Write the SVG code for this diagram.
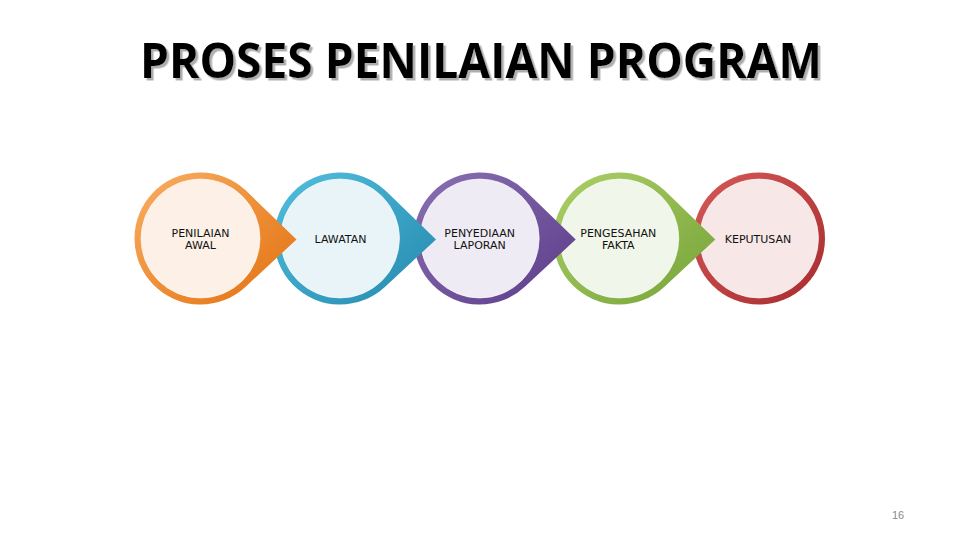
<svg xmlns="http://www.w3.org/2000/svg" xmlns:xlink="http://www.w3.org/1999/xlink" width="960" height="540" viewBox="0 0 960 540">
<style>
.title{font-family:"Open Sans","DejaVu Sans",sans-serif;font-weight:700;font-size:49px;}
.lbl{font-family:"DejaVu Sans","Liberation Sans",sans-serif;font-size:11px;fill:#111;text-anchor:middle;}
.inner{stroke:#ffffff;stroke-opacity:0.6;stroke-width:1;}
.pg{font-family:"Liberation Sans",sans-serif;font-size:11px;fill:#8a8a8a;text-anchor:middle;}
</style>
<defs>
<filter id="shadow" x="-5%" y="-20%" width="110%" height="140%">
<feDropShadow dx="2.5" dy="2.5" stdDeviation="0.6" flood-color="#9a9a9a" flood-opacity="0.8"/>
</filter>
<path id="drop" d="M45.4,-47.9 A66,66 0 1 0 45.4,47.9 L96,1 Z"/>
<linearGradient id="gO" x1="0" y1="0" x2="1" y2="1"><stop offset="0" stop-color="#F9AE63"/><stop offset="1" stop-color="#E2700E"/></linearGradient>
<linearGradient id="gB" x1="0" y1="0" x2="1" y2="1"><stop offset="0" stop-color="#52BFDD"/><stop offset="1" stop-color="#2488AE"/></linearGradient>
<linearGradient id="gP" x1="0" y1="0" x2="1" y2="1"><stop offset="0" stop-color="#8B70B3"/><stop offset="1" stop-color="#5A3C88"/></linearGradient>
<linearGradient id="gG" x1="0" y1="0" x2="1" y2="1"><stop offset="0" stop-color="#ADD068"/><stop offset="1" stop-color="#74A236"/></linearGradient>
<linearGradient id="gR" x1="0" y1="0" x2="1" y2="1"><stop offset="0" stop-color="#D45A58"/><stop offset="1" stop-color="#A82A2D"/></linearGradient>
</defs>
<rect width="960" height="540" fill="#ffffff"/>
<g id="title">
<text class="title" x="481" y="78" text-anchor="middle" fill="#000" filter="url(#shadow)" textLength="682" lengthAdjust="spacingAndGlyphs">PROSES PENILAIAN PROGRAM</text>
</g>
<g id="node5" transform="translate(759,238.5)">
<circle r="66" fill="url(#gR)"/>
<circle r="59.5" fill="#F7E7E7" class="inner"/>
<text class="lbl" x="-1" y="4.5">KEPUTUSAN</text>
</g>
<g id="node4" transform="translate(619.3,238.5)">
<use xlink:href="#drop" fill="url(#gG)"/>
<circle r="59.5" fill="#F1F6EA" class="inner"/>
<text class="lbl" x="-1" y="-1.5">PENGESAHAN</text>
<text class="lbl" x="-1" y="10.5">FAKTA</text>
</g>
<g id="node3" transform="translate(479.7,238.5)">
<use xlink:href="#drop" fill="url(#gP)"/>
<circle r="59.5" fill="#EFEBF4" class="inner"/>
<text class="lbl" x="0" y="-1.5">PENYEDIAAN</text>
<text class="lbl" x="0" y="10.5">LAPORAN</text>
</g>
<g id="node2" transform="translate(340,238.5)">
<use xlink:href="#drop" fill="url(#gB)"/>
<circle r="59.5" fill="#E8F4F8" class="inner"/>
<text class="lbl" x="0.5" y="4.5">LAWATAN</text>
</g>
<g id="node1" transform="translate(200.5,238.5)">
<use xlink:href="#drop" fill="url(#gO)"/>
<circle r="59.5" fill="#FDF0E7" class="inner"/>
<text class="lbl" x="0" y="-2">PENILAIAN</text>
<text class="lbl" x="0" y="10">AWAL</text>
</g>
<text class="pg" x="898" y="519">16</text>
</svg>
